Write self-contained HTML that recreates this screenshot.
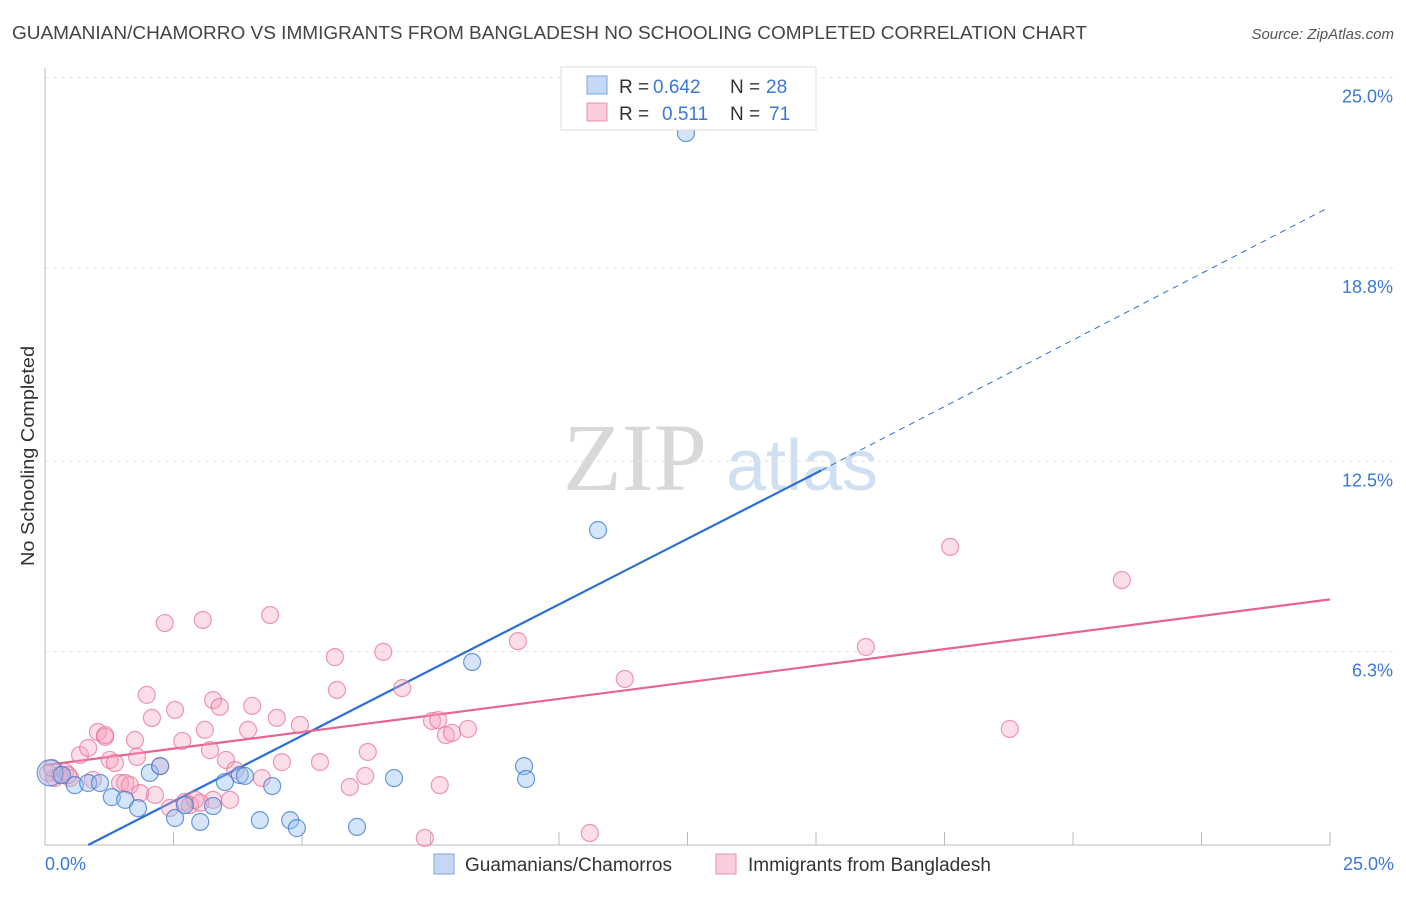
<!DOCTYPE html>
<html><head><meta charset="utf-8"><style>
body{margin:0;background:#fff;font-family:"Liberation Sans",sans-serif;}
</style></head><body>
<svg id="chart" width="1406" height="892" xmlns="http://www.w3.org/2000/svg" font-family="Liberation Sans, sans-serif">
<text x="12" y="39" font-size="18" fill="#444" textLength="1075" lengthAdjust="spacingAndGlyphs">GUAMANIAN/CHAMORRO VS IMMIGRANTS FROM BANGLADESH NO SCHOOLING COMPLETED CORRELATION CHART</text>
<text x="1394" y="39" font-size="15" fill="#555" text-anchor="end" font-style="italic">Source: ZipAtlas.com</text>
<text transform="translate(34,456) rotate(-90)" font-size="18" fill="#333" text-anchor="middle" textLength="220" lengthAdjust="spacingAndGlyphs">No Schooling Completed</text>
<g>
<text x="635" y="490" font-size="96" fill="#d8d8d8" text-anchor="middle" style="font-family:'Liberation Serif',serif">ZIP</text>
<text x="802" y="490" font-size="72" fill="#cfe0f3" text-anchor="middle">atlas</text>
</g>
<g id="grid"></g>
<g id="axes"></g>
<g id="trend"></g>
<g id="pts"></g>
<g>
<rect x="561" y="67" width="255" height="63" fill="#fff" stroke="#ddd"/>
<rect x="587" y="76" width="20" height="18" fill="#c5d9f5" stroke="#7aa6e0"/>
<text x="619" y="93" font-size="19" fill="#333">R =</text><text x="653" y="93" font-size="19" fill="#3a78d8">0.642</text>
<text x="730" y="93" font-size="19" fill="#333">N =</text><text x="766" y="93" font-size="19" fill="#3a78d8">28</text>
<rect x="587" y="103" width="20" height="18" fill="#f9cdd9" stroke="#eb8fab"/>
<text x="619" y="120" font-size="19" fill="#333">R =</text><text x="662" y="120" font-size="19" fill="#3a78d8">0.511</text>
<text x="730" y="120" font-size="19" fill="#333">N =</text><text x="769" y="120" font-size="19" fill="#3a78d8">71</text>
</g>
<g>
<rect x="434" y="854" width="20" height="20" fill="#c5d9f5" stroke="#7aa6e0"/>
<text x="465" y="871" font-size="19" fill="#333">Guamanians/Chamorros</text>
<rect x="716" y="854" width="20" height="20" fill="#f9cdd9" stroke="#eb8fab"/>
<text x="748" y="871" font-size="19" fill="#333">Immigrants from Bangladesh</text>
</g>
</svg>
<script>
const yTicks=[25.0,18.8,12.5,6.3];
const yTickLabels=["25.0%","18.8%","12.5%","6.3%"];
const xTickLabels=["0.0%","25.0%"];
const blueX=[0.1,0.33,0.58,0.84,1.07,1.3,1.56,1.81,2.04,2.24,2.53,2.72,3.02,3.27,3.5,3.79,3.89,4.18,4.42,4.77,4.9,6.07,6.79,8.31,9.32,9.36,10.76,12.47];
const blueY=[2.35,2.28,1.95,2.02,2.02,1.56,1.47,1.2,2.35,2.57,0.88,1.3,0.75,1.27,2.05,2.28,2.25,0.81,1.92,0.81,0.55,0.59,2.18,5.96,2.57,2.15,10.26,23.19];
const pinkX=[0.06,0.19,0.29,0.39,0.49,0.68,0.84,0.93,1.03,1.17,1.26,1.36,1.46,1.56,1.65,1.75,1.79,1.85,1.98,2.08,2.14,2.24,2.33,2.43,2.53,2.67,2.72,2.82,2.92,3.07,3.11,3.21,3.27,3.4,3.52,3.6,3.7,3.95,4.03,4.22,4.38,4.51,4.61,4.96,5.35,5.64,5.68,5.93,6.23,6.28,6.58,6.95,7.53,7.65,7.68,7.8,7.92,8.23,9.2,10.6,11.28,15.97,17.61,18.77,20.95,7.39,3.27,3.02,1.17,0.45,0.14];
const pinkY=[2.35,2.18,2.28,2.38,2.18,2.93,3.16,2.12,3.68,3.52,2.77,2.67,2.02,2.02,1.95,3.42,2.87,1.69,4.89,4.14,1.63,2.57,7.23,1.21,4.4,3.39,1.4,1.3,1.47,7.33,3.75,3.09,4.72,4.5,2.77,1.47,2.44,3.75,4.53,2.18,7.49,4.14,2.7,3.91,2.7,6.12,5.05,1.89,2.25,3.03,6.29,5.11,4.04,4.07,1.95,3.58,3.65,3.78,6.64,0.39,5.41,6.45,9.71,3.78,8.63,0.23,1.47,1.37,3.58,2.28,2.51];
const blueTrendX=[0.84,15.1,24.9];
const blueTrendY=[0,12.2,20.7];
const pinkTrendX=[0,25];
const pinkTrendY=[2.6,8.0];
const NS="http://www.w3.org/2000/svg";
const sx=v=>45+v*51.4, sy=v=>845-v*30.7;
function mk(tag,attrs,parent){const e=document.createElementNS(NS,tag);for(const k in attrs)e.setAttribute(k,attrs[k]);document.getElementById(parent).appendChild(e);return e;}
yTicks.forEach((t,i)=>{
 const l=mk('line',{x1:45,x2:1395,y1:sy(t),y2:sy(t),stroke:'#e2e2e2','stroke-dasharray':'4,4'},'grid');
 
 
 const tx=mk('text',{x:1393,y:sy(t)+25,'font-size':18,fill:'#3a78d8','text-anchor':'end'},'grid');
 tx.textContent=yTickLabels[i];
 
 
});
const ax=mk('line',{x1:45,x2:45,y1:68,y2:845,stroke:'#bbb'},'axes');


const bx=mk('line',{x1:45,x2:1330,y1:845,y2:845,stroke:'#bbb'},'axes');


for(let i=1;i<=10;i++){const t=mk('line',{x1:sx(i*2.5),x2:sx(i*2.5),y1:832,y2:845,stroke:'#bbb'},'axes');
 
 }
[[0,45,'start'],[25,1394,'end']].forEach((d,i)=>{const t=mk('text',{x:d[1],y:870,'font-size':18,fill:'#3a78d8','text-anchor':d[2]},'axes');t.textContent=xTickLabels[i];
 
 });
const bt1=mk('line',{x1:sx(blueTrendX[0]),y1:sy(blueTrendY[0]),x2:sx(blueTrendX[1]),y2:sy(blueTrendY[1]),stroke:'#2a6fd6','stroke-width':2.2},'trend');


const bt2=mk('line',{x1:sx(blueTrendX[1]),y1:sy(blueTrendY[1]),x2:sx(blueTrendX[2]),y2:sy(blueTrendY[2]),stroke:'#2a6fd6','stroke-width':1,'stroke-dasharray':'6,5'},'trend');


const pt=mk('line',{x1:sx(pinkTrendX[0]),y1:sy(pinkTrendY[0]),x2:sx(pinkTrendX[1]),y2:sy(pinkTrendY[1]),stroke:'#e8638f','stroke-width':2.2},'trend');


pinkX.forEach((x,i)=>{const c=mk('circle',{cx:sx(x),cy:sy(pinkY[i]),r:8.5,fill:'rgba(245,160,185,0.35)',stroke:'rgba(232,110,150,0.7)','stroke-width':1.2},'pts');
 
 });
blueX.forEach((x,i)=>{const c=mk('circle',{cx:sx(x),cy:sy(blueY[i]),r:i===0?13:8.5,fill:'rgba(150,190,240,0.4)',stroke:'rgba(60,120,210,0.75)','stroke-width':1.2},'pts');
 
 });
</script>
</body></html>
